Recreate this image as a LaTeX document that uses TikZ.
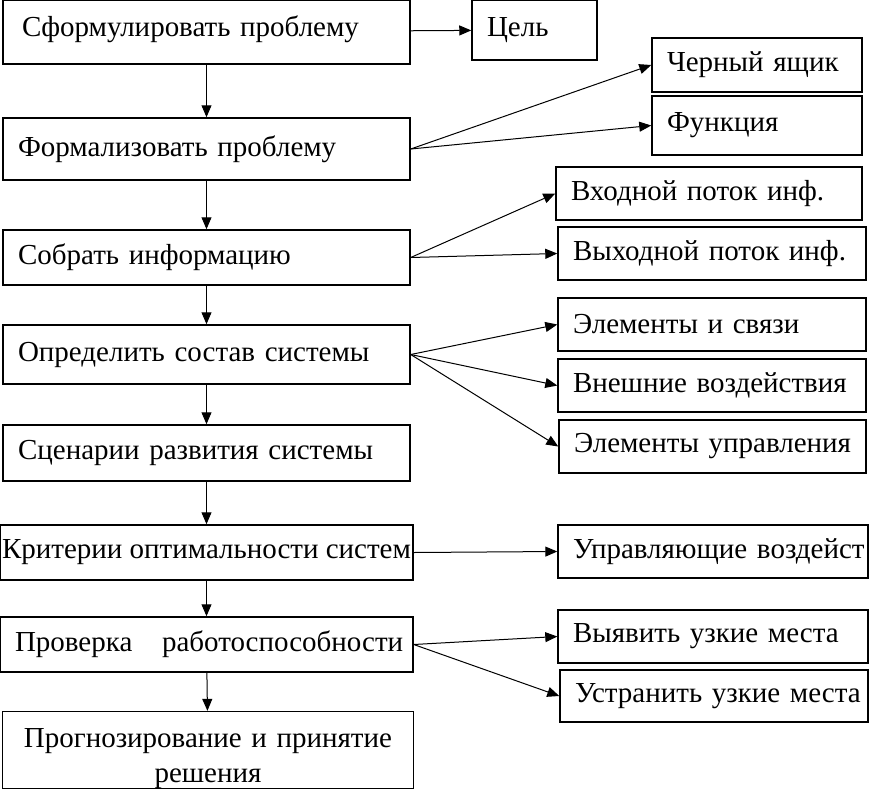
\documentclass[tikz,border=0pt]{standalone}
\usepackage{fontspec}
\setmainfont{Liberation Serif}
\usetikzlibrary{arrows.meta}

\begin{document}
\begin{tikzpicture}[x = 0.02cm, y = -0.02cm,
  stage/.style = {rectangle, line width = 0.3mm, draw = black, inner xsep = 0.3cm, inner ysep = 0pt, align = left, font = \fontsize{16.5}{17}\selectfont},
  outcome/.style = {stage, text width = #1},
  link/.style = {draw, line width = 0.2mm, -{Triangle[length = 0.24cm, width = 0.2cm]}}]

\useasboundingbox (0, 0) rectangle (870, 789);

% main chain
\node[stage, text width = 7.54cm, minimum height = 1.28cm] (s1) at (206.5, 32) {\hspace{0.08cm}Сформулировать проблему\rule[-0.22cm]{0pt}{0.22cm}};
\node[stage, text width = 7.54cm, minimum height = 1.24cm] (s2) at (206.5, 149) {Формализовать проблему};
\node[stage, text width = 7.54cm, minimum height = 1.10cm] (s3) at (206.5, 257.5) {Собрать информацию};
\node[stage, text width = 7.54cm, minimum height = 1.18cm] (s4) at (206.5, 354.5) {Определить состав системы};
\node[stage, text width = 7.54cm, minimum height = 1.12cm] (s5) at (206.5, 453) {Сценарии развития системы};
\node[stage, inner xsep = 0pt, align = center, minimum width = 8.26cm, minimum height = 1.10cm] (s6) at (206.5, 552.5) {Критерии оптимальности систем};
\node[stage, text width = 7.66cm, minimum height = 1.10cm] (s7) at (206.5, 644.5) {\mbox{Проверка\hspace{0.4cm} работоспособности}};
\node[stage, text width = 7.62cm, align = center, minimum height = 1.52cm, font = \fontsize{16.5}{20}\selectfont] (s8) at (208, 750) {\rule{0pt}{0.71cm}Прогнозирование и принятие\\решения};

% results
\node[outcome = 1.90cm, minimum height = 1.20cm] (goal) at (534.5, 30) {Цель};
\node[outcome = 3.60cm, minimum height = 1.08cm] (blackbox) at (757, 65) {Черный ящик};
\node[outcome = 3.60cm, minimum height = 1.18cm] (func) at (757, 125.5) {Функция};
\node[outcome = 5.52cm, minimum height = 1.06cm] (inflow) at (709, 193.5) {Входной поток инф.};
\node[outcome = 5.56cm, minimum height = 1.06cm] (outflow) at (712, 253.5) {Выходной поток инф.};
\node[outcome = 5.56cm, minimum height = 1.06cm] (links) at (712, 324.5) {Элементы и связи};
\node[outcome = 5.56cm, minimum height = 1.06cm] (extern) at (712, 385.5) {Внешние воздействия};
\node[outcome = 5.54cm, minimum height = 1.06cm] (controls) at (712.5, 446.5) {\mbox{Элементы управления}};
\node[outcome = 5.60cm, minimum height = 1.06cm] (actions) at (713, 551.5) {\mbox{Управляющие воздейст}};
\node[outcome = 5.60cm, minimum height = 1.06cm] (find) at (713, 636.5) {Выявить узкие места};
\node[outcome = 5.56cm, minimum height = 1.04cm] (fix) at (714, 696) {\mbox{Устранить узкие места}};

% down the chain
\path (s1) edge [link] (s2);
\path (s2) edge [link] (s3);
\path (s3) edge [link] (s4);
\path (s4) edge [link] (s5);
\path (s5) edge [link] (s6);
\path (s6) edge [link] (s7);
\path (s7) edge [link] (s8);

% to the right
\path (s1) edge [link] (goal);
\path (s2.east) edge [link] (blackbox.west);
\path (s2.east) edge [link] (func.west);
\path (s3.east) edge [link] (inflow.west);
\path (s3.east) edge [link] (outflow.west);
\path (s4.east) edge [link] (links.west);
\path (s4.east) edge [link] (extern.west);
\path (s4.east) edge [link] (controls.west);
\path (s6.east) edge [link] (actions.west);
\path (s7.east) edge [link] (find.west);
\path (s7.east) edge [link] (fix.west);

\end{tikzpicture}
\end{document}
